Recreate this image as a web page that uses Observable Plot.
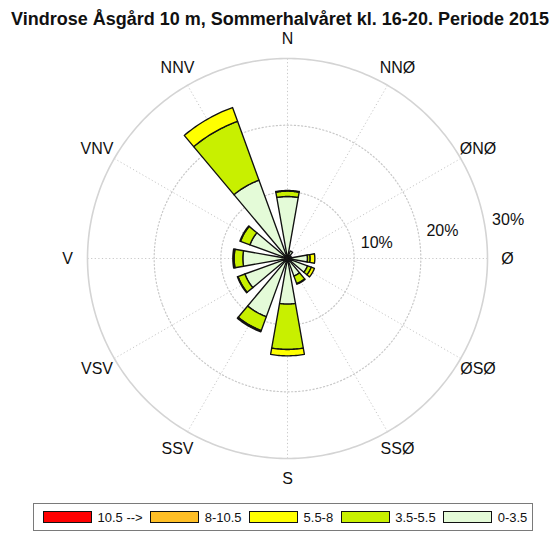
<!DOCTYPE html>
<html>
<head>
<meta charset="utf-8">
<script src="https://cdn.jsdelivr.net/npm/d3@7"></script>
<script src="https://cdn.jsdelivr.net/npm/@observablehq/plot@0.6"></script>
<style>
  body { margin: 0; background: #fff; font-family: "Liberation Sans", Arial, sans-serif; }
  #wrap { position: relative; width: 560px; height: 533px; overflow: hidden; }
  #title { position: absolute; top: 10px; left: 0; width: 560px; text-align: center;
           font: bold 18px/18px "Liberation Sans", Arial, sans-serif; color: #111; white-space: nowrap; }
  #chart { position: absolute; top: 30px; left: 0; }
  #legend { position: absolute; left: 33px; top: 503px; width: 500px; height: 28px; box-sizing: border-box;
            border: 1px solid #7a7a7a; display: flex; align-items: center; padding-left: 9px;
            font: 13px "Liberation Sans", Arial, sans-serif; color: #111; white-space: nowrap; }
  .item { display: flex; align-items: center; margin-right: 7.5px; flex: none; }
  .sw { width: 49px; height: 12px; box-sizing: border-box; border: 1px solid #111; margin-right: 5.5px; flex: none; }
</style>
</head>
<body>
<div id="wrap">
  <div id="title"></div>
  <div id="chart"></div>
  <div id="legend"></div>
</div>
<script>
const titleText = "Vindrose Åsgård 10 m, Sommerhalvåret kl. 16-20. Periode 2015";

// Directions (compass bearing, degrees) and their labels
const bearings = [0, 30, 60, 90, 120, 150, 180, 210, 240, 270, 300, 330];
const dirLabels = ["N", "NNØ", "ØNØ", "Ø", "ØSØ", "SSØ", "S", "SSV", "VSV", "V", "VNV", "NNV"];

// Wind speed classes (legend order) and colours
const classLabels = ["10.5 -->", "8-10.5", "5.5-8", "3.5-5.5", "0-3.5"];
const classColors = ["#ff0000", "#ffbf26", "#ffff00", "#c8f000", "#e4fbd8"];

// Frequency (%) per direction for each speed class
const s0_35   = [9.3, 1.2, 0.6, 3.0, 3.2, 2.8, 6.85, 9.3, 6.8, 6.7, 6.0, 12.5];
const s35_55  = [0.8, 0, 0, 0.4, 0.6, 1.2, 6.8, 2.2, 1.1, 1.3, 1.5, 9.4];
const s55_8   = [0.1, 0, 0, 0.7, 0.5, 0.1, 0.95, 0.2, 0.1, 0.2, 0.1, 2.2];
const s8_105  = [0, 0, 0, 0, 0, 0, 0, 0, 0, 0, 0, 0];
const s105    = [0, 0, 0, 0, 0, 0, 0, 0, 0, 0, 0, 0];

// Radial grid
const rings = [10, 20, 30];
const ringLabels = ["10%", "20%", "30%"];

document.getElementById("title").textContent = titleText;

// stacking from the centre outward
const stackOrder = [
  {cls: "0-3.5", values: s0_35},
  {cls: "3.5-5.5", values: s35_55},
  {cls: "5.5-8", values: s55_8},
  {cls: "8-10.5", values: s8_105},
  {cls: "10.5 -->", values: s105}
];

const halfWidth = 10;
const lon = (b) => 180 - b;   // bearing -> longitude for the polar projection
const lat = (r) => 90 - r;    // percent -> latitude (distance from pole)

function wedge(b, r0, r1) {
  const ring = [];
  for (let a = b - halfWidth; a <= b + halfWidth + 1e-9; a += 1) ring.push([lon(a), lat(r1)]);
  for (let a = b + halfWidth; a >= b - halfWidth - 1e-9; a -= 1) ring.push([lon(a), lat(Math.max(r0, 0.02))]);
  ring.push(ring[0]);
  let poly = {type: "Polygon", coordinates: [ring]};
  if (d3.geoArea(poly) > 2 * Math.PI) poly = {type: "Polygon", coordinates: [ring.slice().reverse()]};
  return poly;
}

const segments = [];
bearings.forEach((b, i) => {
  let acc = 0;
  for (const s of stackOrder) {
    const v = s.values[i];
    if (v > 0) {
      segments.push({bearing: b, cls: s.cls, r0: acc, r1: acc + v, geometry: wedge(b, acc, acc + v)});
      acc += v;
    }
  }
});

const circle = (r) => d3.geoCircle().center([0, 90]).radius(r).precision(1)();
const font = "'Liberation Sans', Arial, sans-serif";

// frame 546 x 456 -> the fitted domain circle has radius 228 px; 30 % = 200 px
const chart = Plot.plot({
  width: 560,
  height: 470,
  marginLeft: 14,
  marginRight: 0,
  marginTop: 0,
  marginBottom: 14,
  style: {fontFamily: font, background: "white", overflow: "visible"},
  projection: {
    type: "azimuthal-equidistant",
    rotate: [0, -90],
    domain: circle(30 * 228 / 200)
  },
  color: {domain: classLabels, range: classColors},
  marks: [
    // spokes
    Plot.link(bearings, {
      x1: (b) => lon(b), y1: lat(30), x2: 0, y2: 90,
      stroke: "#c8c8c8", strokeWidth: 1, strokeDasharray: "1.2,2.4"
    }),
    // inner dotted circles
    Plot.geo(rings.filter((r) => r < 30), {
      geometry: circle, fill: "none", stroke: "#c8c8c8", strokeWidth: 1.2, strokeDasharray: "1.2,2.4"
    }),
    // outer circle
    Plot.geo([30], {geometry: circle, fill: "none", stroke: "#d4d4d4", strokeWidth: 1.6}),
    // wind rose wedges
    Plot.geo(segments, {
      geometry: (d) => d.geometry, fill: "cls", stroke: "#111", strokeWidth: 1.35
    }),
    // direction labels
    Plot.text(bearings, {
      x: (b) => lon(b), y: lat(33), text: (b, i) => dirLabels[i],
      fontSize: 16, fill: "#111"
    }),
    // percent labels
    Plot.text(rings, {
      x: lon(80), y: (r) => lat(r + 3.6), text: (r, i) => ringLabels[i],
      fontSize: 16, fill: "#111"
    })
  ]
});
document.getElementById("chart").appendChild(chart);

// legend
const legend = document.getElementById("legend");
classLabels.forEach((lab, i) => {
  const item = document.createElement("div");
  item.className = "item";
  const sw = document.createElement("div");
  sw.className = "sw";
  sw.style.background = classColors[i];
  const tx = document.createElement("span");
  tx.textContent = lab;
  item.appendChild(sw);
  item.appendChild(tx);
  legend.appendChild(item);
});
</script>
</body>
</html>
